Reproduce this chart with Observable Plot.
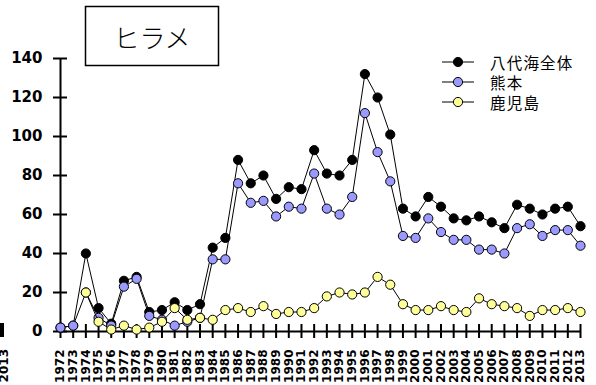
<!DOCTYPE html>
<html>
<head>
<meta charset="utf-8">
<script src="https://cdn.jsdelivr.net/npm/d3@7"></script>
<script src="https://cdn.jsdelivr.net/npm/@observablehq/plot@0.6"></script>
<style>
  html, body { margin: 0; padding: 0; background: #fff; }
  #chart { width: 596px; height: 385px; overflow: hidden; }
</style>
</head>
<body>
<div id="chart"></div>
<script>
const years = [1972,1973,1974,1975,1976,1977,1978,1979,1980,1981,1982,1983,1984,1985,1986,1987,1988,1989,1990,1991,1992,1993,1994,1995,1996,1997,1998,1999,2000,2001,2002,2003,2004,2005,2006,2007,2008,2009,2010,2011,2012,2013];
const total = [2,3,40,12,4,26,28,10,11,15,11,14,43,48,88,76,80,68,74,73,93,81,80,88,132,120,101,63,59,69,64,58,57,59,56,53,65,63,60,63,64,54];
const kumamoto = [2,3,20,7,3,23,27,8,6,3,5,7,37,37,76,66,67,59,64,63,81,63,60,69,112,92,77,49,48,58,51,47,47,42,42,40,53,55,49,52,52,44];
const kagoshima = [null,null,20,5,1,3,1,2,5,12,6,7,6,11,12,10,13,9,10,10,12,18,20,19,20,28,24,14,11,11,13,11,10,17,14,13,12,8,11,11,12,10];
const seriesNames = ["八代海全体", "熊本", "鹿児島"];
const seriesColors = ["#000000", "#9999ff", "#ffff99"];
const yTicks = [0,20,40,60,80,100,120,140];
const title = "ヒラメ";

const seriesValues = [total, kumamoto, kagoshima];
const series = seriesNames.map((name, i) => ({
  name, color: seriesColors[i],
  rows: years.map((yr, j) => ({year: yr, value: seriesValues[i][j]})).filter(d => d.value != null)
}));

const marks = [];
for (const s of series) {
  marks.push(Plot.line(s.rows, {x: "year", y: "value", stroke: "#000", strokeWidth: 1}));
  marks.push(Plot.dot(s.rows, {x: "year", y: "value", r: 4.6, fill: s.color, stroke: "#000", strokeWidth: 1}));
}

const chart = Plot.plot({
  width: 596,
  height: 385,
  marginLeft: 60,
  marginRight: 16,
  marginTop: 58,
  marginBottom: 54,
  style: {fontFamily: "'DejaVu Sans', Verdana, sans-serif", background: "#fff", overflow: "visible"},
  x: {domain: [1972, 2013], axis: null, label: null},
  y: {domain: [0, 140], axis: null, label: null},
  marks: [
    Plot.axisY({ticks: yTicks, label: null, tickSize: 0, tickPadding: 18, fontSize: 15, fontWeight: "bold", tickFormat: d => String(d)}),
    Plot.axisX({ticks: years, label: null, tickSize: 0, tickPadding: 18, tickRotate: -90, fontSize: 12, fontWeight: "bold", tickFormat: d => String(d)}),
    Plot.ruleY(yTicks, {y: d => d, x1: years[0], x2: years[0], insetLeft: -7, insetRight: -7, stroke: "#000", strokeWidth: 2}),
    Plot.ruleX(years, {x: d => d, y1: 0, y2: 0, insetTop: -7, insetBottom: -7, stroke: "#000", strokeWidth: 2}),
    Plot.ruleY([0], {strokeWidth: 2, stroke: "#000"}),
    Plot.ruleX([years[0]], {y1: 0, y2: 140, strokeWidth: 2, stroke: "#000"}),
    ...marks
  ]
});

document.getElementById("chart").appendChild(chart);

const svg = d3.select(chart);
// stray clipped label at far left
svg.append("text")
  .attr("transform", "translate(8,349) rotate(-90)")
  .attr("text-anchor", "end")
  .attr("font-family", "'DejaVu Sans', sans-serif")
  .attr("font-weight", "bold")
  .attr("font-size", 12)
  .text(years[years.length - 1]);
svg.append("rect").attr("x", 0).attr("y", 323).attr("width", 4).attr("height", 14).attr("fill", "#000");

// title box
const tb = svg.append("g");
tb.append("rect").attr("x", 85.5).attr("y", 6.5).attr("width", 133).attr("height", 59)
  .attr("fill", "#fff").attr("stroke", "#000").attr("stroke-width", 1.5);
tb.append("text").attr("x", 152).attr("y", 36).attr("text-anchor", "middle").attr("dominant-baseline", "central")
  .attr("font-family", "'Noto Sans CJK JP', sans-serif").attr("font-size", 26).attr("font-weight", 300)
  .text(title);

// legend
const lg = svg.append("g");
series.forEach((s, i) => {
  const y = 62 + i * 20;
  lg.append("line").attr("x1", 442).attr("x2", 474).attr("y1", y).attr("y2", y).attr("stroke", "#000").attr("stroke-width", 1);
  lg.append("circle").attr("cx", 458).attr("cy", y).attr("r", 4.6).attr("fill", s.color).attr("stroke", "#000").attr("stroke-width", 1);
  lg.append("text").attr("x", 490).attr("y", y).attr("text-anchor", "start").attr("dominant-baseline", "central")
    .attr("font-family", "'Noto Sans CJK JP', sans-serif").attr("font-size", 15.5)
    .attr("letter-spacing", 1.2)
    .text(s.name);
});
</script>
</body>
</html>
